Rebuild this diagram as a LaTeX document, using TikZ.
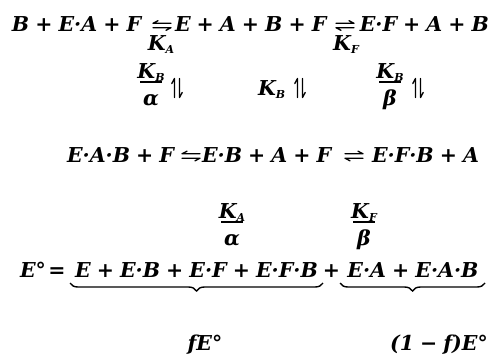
\documentclass[tikz,border=0pt]{standalone}
\usepackage{fontspec}
\setmainfont[WordSpace=0.85]{DejaVu Serif}
\usetikzlibrary{decorations.pathreplacing}
\newcommand\sbx[1]{\raisebox{-0.3ex}{\fontsize{11}{11}\selectfont #1}}
\tikzset{
  txt/.style={inner sep=0pt, outer sep=0pt, font=\fontsize{20.5}{24}\selectfont\bfseries\itshape, anchor=base west},
  ctr/.style={txt, anchor=base},
  rgt/.style={txt, anchor=base east},
  rule/.style={line width=1.4pt},
  hp/.style={line width=1.3pt, line cap=round},
  brc/.style={decorate, decoration={brace, mirror, amplitude=8pt}, line width=1.4pt},
  lrh/.pic={\draw[hp] (-9,-2.2) -- (9,-2.2) (-9,-2.2) -- (-4,-4.8);
            \draw[hp] (-9,2.2) -- (9,2.2) (9,2.2) -- (4,4.8);},
  rlh/.pic={\draw[hp] (-9,-2.2) -- (9,-2.2) (9,-2.2) -- (4,-4.8);
            \draw[hp] (-9,2.2) -- (9,2.2) (-9,2.2) -- (-4,4.8);},
  udh/.pic={\draw[hp] (-2.5,-9.5) -- (-2.5,9.5) (-2.5,-9.5) -- (-5.2,-4.5);
            \draw[hp] (2.5,-9.5) -- (2.5,9.5) (2.5,9.5) -- (5.2,4.5);}
}
\begin{document}
\begin{tikzpicture}[x=1pt,y=-1pt]
\useasboundingbox (0,0) rectangle (494,354);
% row 1
\node[txt] (r1a) at (12,31) {B + E·A + F};
\pic at (162,25.5) {lrh};
\node[ctr] (ka) at (161,50) {K\sbx{A}};
\node[txt] (r1b) at (175,31) {E + A + B + F};
\pic at (345,25.5) {rlh};
\node[ctr] (kf) at (346,50) {K\sbx{F}};
\node[rgt] (r1c) at (489,31) {E·F + A + B};
% row 2
\node[ctr] (n1) at (151,78) {K\sbx{B}};
\node[ctr] (d1) at (151,105) {α};
\draw[rule] (140,82) -- (162,82);
\pic at (177,88) {udh};
\node[txt] (kb) at (258,95) {K\sbx{B}};
\pic at (300,88) {udh};
\node[ctr] (n3) at (390,78) {K\sbx{B}};
\node[ctr] (d3) at (390,105) {β};
\draw[rule] (379,82) -- (401,82);
\pic at (418,88) {udh};
% row 3
\node[txt] (r3a) at (67,162) {E·A·B + F};
\pic at (191,156) {lrh};
\node[txt] (r3b) at (202,162) {E·B + A + F};
\pic at (354,156) {rlh};
\node[rgt] (r3c) at (479,162) {E·F·B + A};
% row 4
\node[ctr] (n4) at (232,218) {K\sbx{A}};
\node[ctr] (d4) at (232,245) {α};
\draw[rule] (221,222) -- (243,222);
\node[ctr] (n5) at (364,218) {K\sbx{F}};
\node[ctr] (d5) at (364,245) {β};
\draw[rule] (353,222) -- (375,222);
% row 5
\node[txt] (e0) at (20,277) {E°};
\node[ctr] (eq) at (57,277) {=};
\node[ctr] (g1) at (196.5,277) {E + E·B + E·F + E·F·B};
\node[ctr] (pl) at (331.5,277) {+};
\node[ctr] (g2) at (413,277) {E·A + E·A·B};
\coordinate (b1s) at (70,283);
\coordinate (b1e) at (323,283);
\coordinate (b2s) at (340,283);
\coordinate (b2e) at (485,283);
\draw[brc] (b1s) -- (b1e);
\draw[brc] (b2s) -- (b2e);
\node[ctr] (l1) at (205,350) {fE°};
\node[ctr] (l2) at (439,350) {(1 − f)E°};
\end{tikzpicture}
\end{document}
